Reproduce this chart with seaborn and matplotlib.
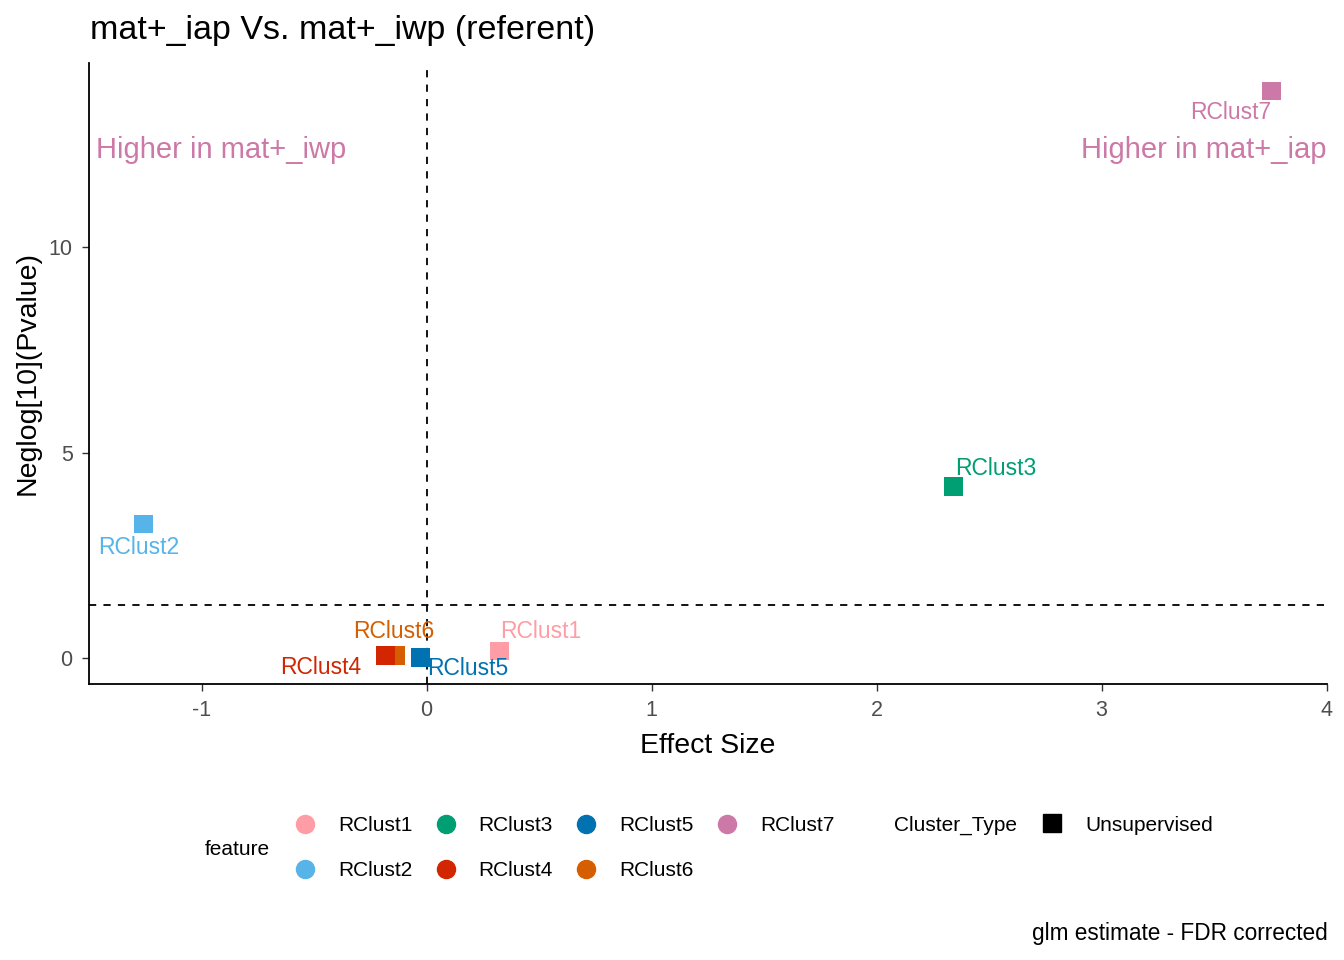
import matplotlib
matplotlib.use("Agg")
import matplotlib.pyplot as plt
from matplotlib.lines import Line2D
import pandas as pd
import seaborn as sns

features = ["RClust1", "RClust2", "RClust3", "RClust4", "RClust5", "RClust6", "RClust7"]
effect_size = [0.324, -1.258, 2.342, -0.184, -0.027, -0.138, 3.756]
neglog_p = [0.17, 3.26, 4.18, 0.07, 0.02, 0.07, 13.8]
cluster_type = ["Unsupervised"] * 7
colors = ["#FF9DA7", "#56B4E9", "#009E73", "#D12600", "#0072B2", "#D55E00", "#CC79A7"]
# label offsets in pixels (ggrepel-ish placement)
label_offsets = [(41, 20), (-5, -23), (42, 18), (-65, -12), (47, -11), (-2, 24), (-41, -22)]
# RClust4 sits on top of RClust6 in the original
draw_order = ["RClust1", "RClust2", "RClust3", "RClust6", "RClust5", "RClust4", "RClust7"]

df = pd.DataFrame({"feature": features, "effect": effect_size,
                   "neglog": neglog_p, "Cluster_Type": cluster_type})
df = df.set_index("feature").loc[draw_order].reset_index()
palette = dict(zip(features, colors))

sns.set_style("white")
plt.rcParams["font.family"] = ["Liberation Sans", "DejaVu Sans"]
plt.rcParams["axes.unicode_minus"] = False
plt.rcParams["text.color"] = "black"
plt.rcParams["axes.labelcolor"] = "black"

fig = plt.figure(figsize=(13.44, 9.6), dpi=100)
ax = fig.add_axes([0.066, 0.2875, 0.921, 0.647])

sns.scatterplot(data=df, x="effect", y="neglog", hue="feature", palette=palette,
                marker="s", s=180, linewidth=0, ax=ax, legend=False, zorder=3)

ax.axhline(1.301, color="black", linestyle=(0, (4, 4)), linewidth=1.3, zorder=1)
ax.axvline(0, color="black", linestyle=(0, (4, 4)), linewidth=1.3, zorder=1)

for f, x, y, c, off in zip(features, effect_size, neglog_p, colors, label_offsets):
    ax.annotate(f, (x, y), xytext=off, textcoords="offset pixels", color=c,
                fontsize=16.5, ha="center", va="center", zorder=4)

ax.text(-1.47, 12.36, "Higher in mat+_iwp", color="#CC79A7", fontsize=21,
        ha="left", va="center")
ax.text(4.0, 12.36, "Higher in mat+_iap", color="#CC79A7", fontsize=21,
        ha="right", va="center")

ax.set_xlim(-1.502, 4.0)
ax.set_ylim(-0.63, 14.48)
ax.set_xticks([-1, 0, 1, 2, 3, 4])
ax.set_yticks([0, 5, 10])
for s in ["top", "right"]:
    ax.spines[s].set_visible(False)
for s in ["left", "bottom"]:
    ax.spines[s].set_color("black")
    ax.spines[s].set_linewidth(1.3)
ax.tick_params(axis="both", which="both", direction="out", length=5, width=1,
               color="#333333", labelcolor="#4D4D4D", labelsize=15.5, pad=6.5,
               bottom=True, left=True)
ax.set_xlabel("Effect Size", fontsize=20.5, labelpad=9)
ax.set_ylabel("Neglog[10](Pvalue)", fontsize=20.5, labelpad=6)
fig.text(0.067, 1 - 30 / 960, "mat+_iap Vs. mat+_iwp (referent)", fontsize=24.5,
         ha="left", va="center")

# legends
feat_handles = [Line2D([], [], marker="o", linestyle="", markersize=13,
                       markerfacecolor=c, markeredgecolor=c, label=f)
                for f, c in zip(features, colors)]
fig.text(0.1525, 0.1156, "feature", fontsize=15, ha="left", va="center")
fig.legend(handles=feat_handles, ncol=4, loc="center left", bbox_to_anchor=(0.219, 0.1167),
           frameon=False, fontsize=15, handlelength=1.0, handletextpad=1.09,
           columnspacing=1.1, labelspacing=1.25, borderpad=0, borderaxespad=0)

fig.text(0.665, 0.1406, "Cluster_Type", fontsize=15, ha="left", va="center")
type_handles = [Line2D([], [], marker="s", linestyle="", markersize=13,
                       markerfacecolor="black", markeredgecolor="black", label="Unsupervised")]
fig.legend(handles=type_handles, loc="center left", bbox_to_anchor=(0.775, 0.1406),
           frameon=False, fontsize=15, handlelength=1.0, handletextpad=1.09,
           borderpad=0, borderaxespad=0)

fig.text(0.988, 0.028, "glm estimate - FDR corrected", fontsize=16.3, ha="right", va="center")

fig.savefig("out.png", dpi=100)
plt.close(fig)
